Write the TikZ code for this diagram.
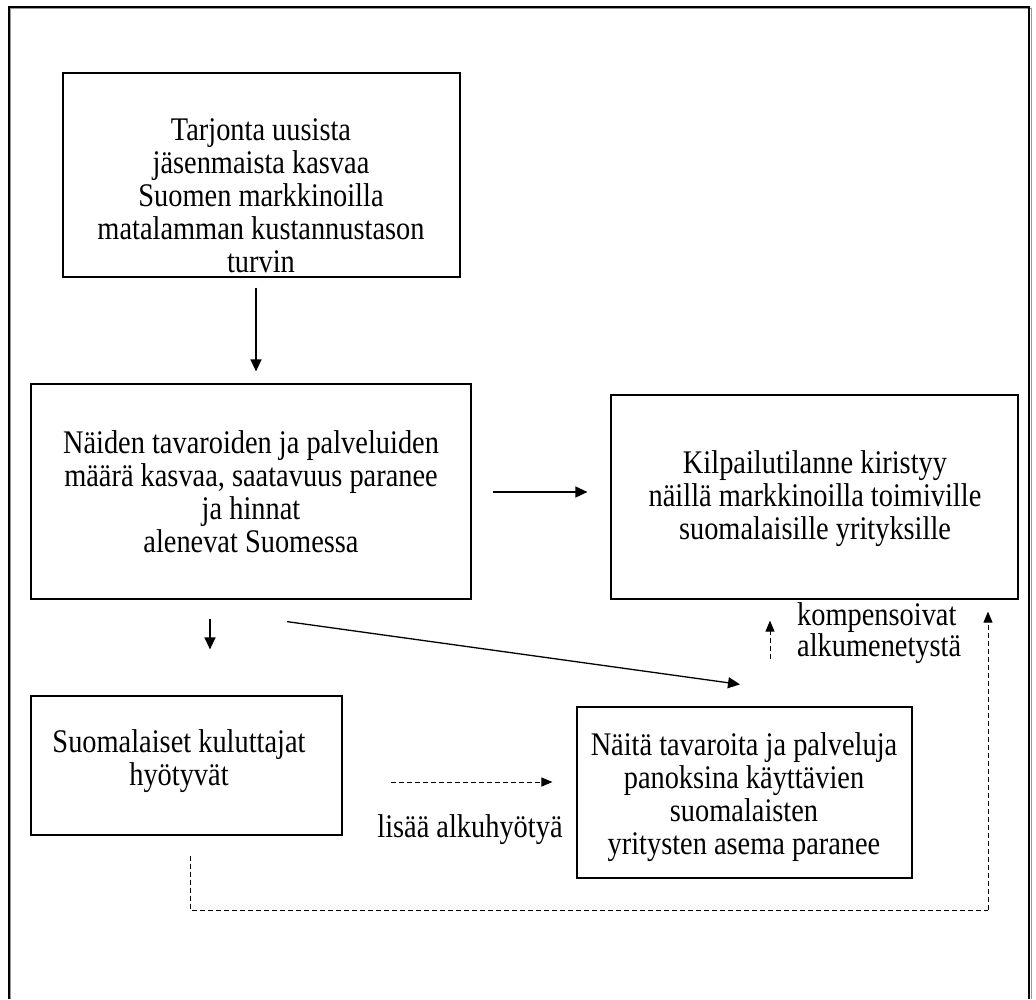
\documentclass[tikz,border=0pt]{standalone}
\usepackage{fontspec}
\setmainfont{Liberation Serif}[FakeStretch=0.86]
\usetikzlibrary{arrows.meta,shadows}
\begin{document}
\begin{tikzpicture}[x=1pt,y=-1pt,
  box/.style={draw=black,line width=1.2pt,fill=white,rectangle,inner sep=0pt,
    drop shadow={shadow xshift=1.3pt,shadow yshift=-1.3pt,fill=black!45,opacity=1}},
  txt/.style={font=\fontsize{33}{33}\selectfont,align=center,inner sep=0pt},
  arr/.style={line width=1.3pt,-{Triangle[length=12pt,width=11pt]}},
  darr/.style={line width=1pt,dash pattern=on 5pt off 3pt,-{Triangle[length=11pt,width=9pt]}},
  dline/.style={line width=1pt,dash pattern=on 5pt off 3pt}]
\useasboundingbox (0,0) rectangle (1036,999);
% frame
\draw[black!40,line width=1pt] (10.5,999) -- (10.5,8.5) -- (1031,8.5) -- (1031,999);
\draw[line width=2pt] (8.5,999) -- (8.5,6.5) -- (1029,6.5) -- (1029,999);
% boxes
\node[box,minimum width=397pt,minimum height=204pt] (b1) at (261.5,175) {};
\node[box,minimum width=440pt,minimum height=215pt] (b2) at (251,491.5) {};
\node[box,minimum width=407pt,minimum height=204pt] (b3) at (814.5,497) {};
\node[box,minimum width=311pt,minimum height=139pt] (b4) at (186.5,765.5) {};
\node[box,minimum width=335pt,minimum height=171pt] (b5) at (744.5,792.5) {};
% texts
\node[txt] (t1) at (261,196) {Tarjonta uusista\\jäsenmaista kasvaa\\Suomen markkinoilla\\matalamman kustannustason\\turvin};
\node[txt] (t2) at (251,492) {Näiden tavaroiden ja palveluiden\\määrä kasvaa, saatavuus paranee\\ja hinnat\\alenevat Suomessa};
\node[txt] (t3) at (815,499) {Kilpailutilanne kiristyy\\näillä markkinoilla toimiville\\suomalaisille yrityksille};
\node[txt] (t4) at (179,761) {Suomalaiset kuluttajat\\hyötyvät};
\node[txt] (t5) at (744,797) {Näitä tavaroita ja palveluja\\panoksina käyttävien\\suomalaisten\\yritysten asema paranee};
\node[txt] (l1) at (470,830) {lisää alkuhyötyä};
\node[txt,align=left,anchor=west,font=\fontsize{33}{25}\selectfont] (l2) at (797,633) {kompensoivat\\alkumenetystä};
% connectors
\draw[arr] ([xshift=-5.5pt,yshift=-10pt]b1.south) -- ([xshift=5pt,yshift=12pt]b2.north);
\draw[arr] ([xshift=21pt,yshift=-0.5pt]b2.east) -- ([xshift=-23pt,yshift=5pt]b3.west);
\draw[arr] ([xshift=-41pt,yshift=-19pt]b2.south) -- ([xshift=23.5pt,yshift=46pt]b4.north);
\draw[arr] ([xshift=36pt,yshift=-22pt]b2.south) -- ([xshift=-4.5pt,yshift=22pt]b5.north);
\draw[darr] ([xshift=48pt,yshift=-16.5pt]b4.east) -- ([xshift=-24pt,yshift=10.5pt]b5.west);
\draw[darr] ([xshift=25.5pt,yshift=47pt]b5.north) -- ([xshift=-44.5pt,yshift=-21pt]b3.south);
\coordinate (lb) at (988,910);
\draw[dline] ([xshift=3.5pt,yshift=-20pt]b4.south) |- (lb);
\draw[darr] (lb) -- ([xshift=173.5pt,yshift=-12pt]b3.south);
\end{tikzpicture}
\end{document}
